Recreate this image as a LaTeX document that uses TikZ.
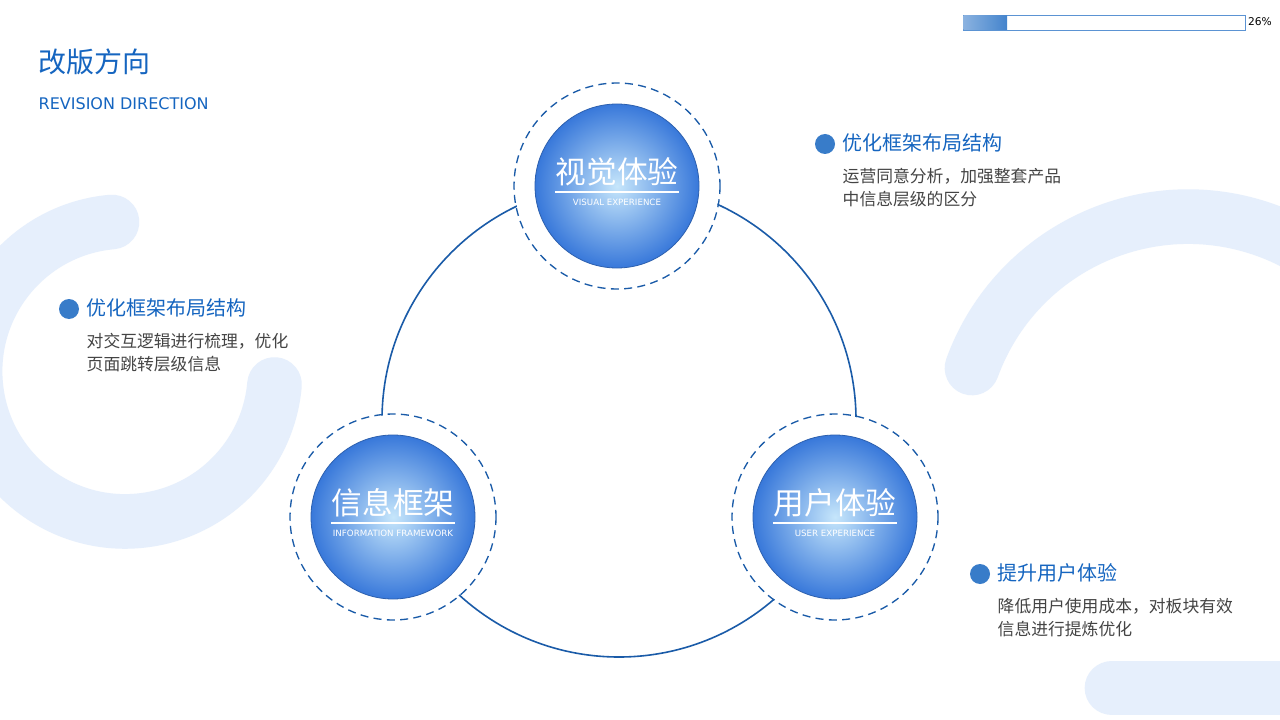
\documentclass[tikz,border=0pt]{standalone}
\usepackage{fontspec}
\setmainfont{Noto Sans CJK SC}
\newfontfamily\latin{DejaVu Sans}
\definecolor{tblue}{HTML}{1565C0}
\definecolor{pale}{HTML}{E6EFFC}
\definecolor{ringblue}{HTML}{1A5BA8}
\definecolor{gray1}{HTML}{444444}
\definecolor{ballin}{HTML}{C6E6FB}
\definecolor{ballout}{HTML}{3878DA}
\begin{document}
\begin{tikzpicture}[x=0.75pt,y=-0.75pt,
  deco/.style={pale,line width=41pt,line cap=round},
  dring/.style={draw=ringblue,dashed,dash pattern=on 6pt off 4pt,line width=1pt},
  bigt/.style={text=white,font=\fontsize{23}{26}\selectfont},
  subt/.style={text=white,font=\latin\fontsize{6.5}{7}\selectfont},
  head/.style={text=tblue,font=\fontsize{15}{18}\selectfont,anchor=west},
  body/.style={text=gray1,font=\fontsize{12.6}{17}\selectfont,anchor=north west,align=left},
  dot/.style={circle,fill=tblue!85,minimum size=15pt,inner sep=0pt}]
\useasboundingbox (0,0) rectangle (1280,720);
\fill[white] (0,0) rectangle (1280,720);
% decorations
\begin{scope}
\clip (0,0) rectangle (1280,720);
\draw[deco] (112,222) arc[start angle=-95,end angle=-355,radius=150];
\draw[deco] (972,368) arc[start angle=200,end angle=330,radius=230];
\draw[deco] (1112,688) -- (1300,688);
\end{scope}
% title
\node[anchor=west,text=tblue,font=\fontsize{21}{24}\selectfont] (t1) at (34,62) {改版方向};
\node[anchor=west,text=tblue,font=\latin\fontsize{12}{14}\selectfont] (t2) at (34,104) {REVISION DIRECTION};
% progress
\draw[tblue!70,fill=white] (963,15) rectangle (1245,30);
\fill[left color=tblue!50,right color=tblue!80] (963.5,15.5) rectangle (1007,29.5);
\node[font=\latin\fontsize{8}{9}\selectfont,text=black] (pct) at (1260,22) {26\%};
% big ring
\draw[ringblue,line width=1.2pt] (619,420) circle[radius=237];
% nodes
\foreach \n/\cx/\cy/\a/\b in {v/617/186/视觉体验/VISUAL EXPERIENCE,i/393/517/信息框架/INFORMATION FRAMEWORK,u/835/517/用户体验/USER EXPERIENCE}{
  \fill[white] (\cx,\cy) circle[radius=102];
  \draw[dring] (\cx,\cy) circle[radius=103];
  \shade[inner color=ballin,outer color=ballout] (\cx,\cy) circle[radius=82];
  \draw[ballout!80!black,line width=0.6pt] (\cx,\cy) circle[radius=82];
  \node[bigt] (\n t) at (\cx,\cy-14) {\a};
  \draw[white,line width=0.8pt] (\cx-62,\cy+6) -- (\cx+62,\cy+6);
  \node[subt] (\n s) at (\cx,\cy+16) {\b};
}
% text blocks
\node[dot] (d1) at (825,144) {};
\node[head] (h1) at (838,143) {优化框架布局结构};
\node[body] (b1) at (838,164) {运营同意分析，加强整套产品\\中信息层级的区分};
\node[dot] (d2) at (69,309) {};
\node[head] (h2) at (82,308) {优化框架布局结构};
\node[body] (b2) at (82,329) {对交互逻辑进行梳理，优化\\页面跳转层级信息};
\node[dot] (d3) at (980,574) {};
\node[head] (h3) at (993,573) {提升用户体验};
\node[body] (b3) at (993,594) {降低用户使用成本，对板块有效\\信息进行提炼优化};
\end{tikzpicture}
\end{document}
